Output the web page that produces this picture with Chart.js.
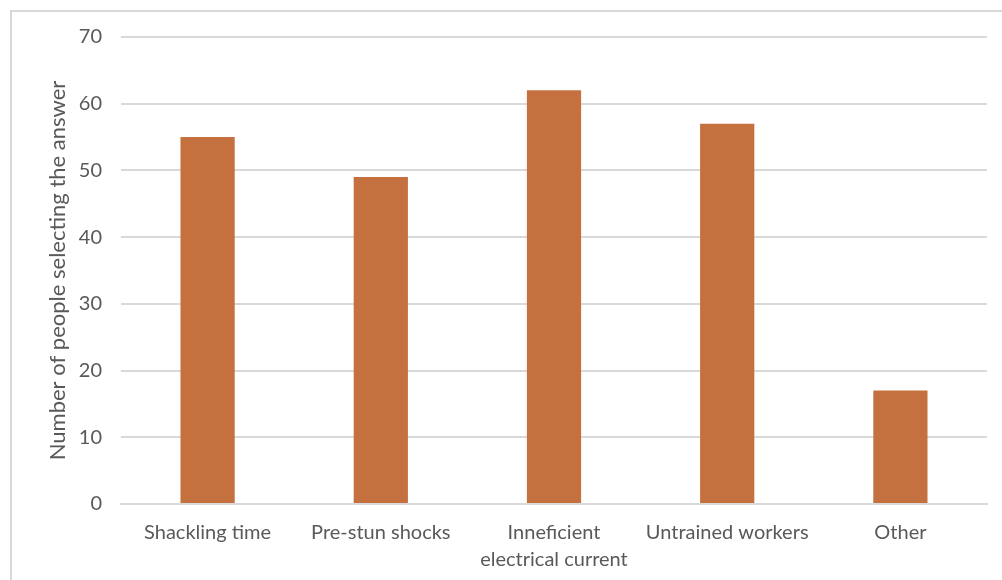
<!DOCTYPE html>
<html>
<head>
<meta charset="utf-8">
<script src="https://cdn.jsdelivr.net/npm/chart.js@4"></script>
<style>
  html, body { margin: 0; padding: 0; background: #ffffff; }
  #wrap { position: relative; width: 1002px; height: 580px; overflow: hidden; }
  #frame { position: absolute; left: 10px; top: 10px; width: 1100px; height: 700px;
           border-left: 2px solid #D9D9D9; border-top: 2px solid #D9D9D9; box-sizing: border-box; }
  canvas { position: absolute; left: 0; top: 0; }
</style>
</head>
<body>
<div id="wrap">
  <div id="frame"></div>
  <canvas id="chart" width="1002" height="580"></canvas>
</div>
<script>
// Survey answers: perceived causes of poor stunning
const categories = [
  'Shackling time',
  'Pre-stun shocks',
  ['Inneficient', 'electrical current'],
  'Untrained workers',
  'Other'
];
const respondents = [55, 49, 62, 57, 17];
const yTicks = [0, 10, 20, 30, 40, 50, 60, 70];

const textColor = '#595959';
const gridColor = '#D9D9D9';
const fontFamily = 'Lato, "Open Sans", sans-serif';

new Chart(document.getElementById('chart'), {
  type: 'bar',
  data: {
    labels: categories,
    datasets: [{
      data: respondents,
      backgroundColor: '#C4703F',
      borderWidth: 0,
      categoryPercentage: 1,
      barPercentage: 0.313
    }]
  },
  options: {
    responsive: false,
    animation: false,
    layout: { padding: { left: 10, right: 15, top: 37, bottom: 0 } },
    plugins: { legend: { display: false }, tooltip: { enabled: false } },
    scales: {
      x: {
        grid: { display: false, drawTicks: false },
        border: { display: true, color: gridColor, width: 2 },
        ticks: {
          color: textColor,
          font: { family: fontFamily, size: 20, lineHeight: 1.35 },
          padding: 15,
          maxRotation: 0,
          autoSkip: false
        },
        afterFit: (scale) => { scale.height = 76; }
      },
      y: {
        min: 0,
        max: 70,
        afterBuildTicks: (scale) => { scale.ticks = yTicks.map(v => ({ value: v })); },
        grid: { color: gridColor, lineWidth: 2, drawTicks: false },
        border: { display: false },
        ticks: {
          color: textColor,
          font: { family: fontFamily, size: 20 },
          padding: 19
        },
        title: {
          display: true,
          text: 'Number of people selecting the answer',
          color: textColor,
          font: { family: fontFamily, size: 22, lineHeight: 1.2 },
          padding: { top: 35, bottom: 0 }
        },
        afterFit: (scale) => { scale.width = 111; }
      }
    }
  }
});
</script>
</body>
</html>
